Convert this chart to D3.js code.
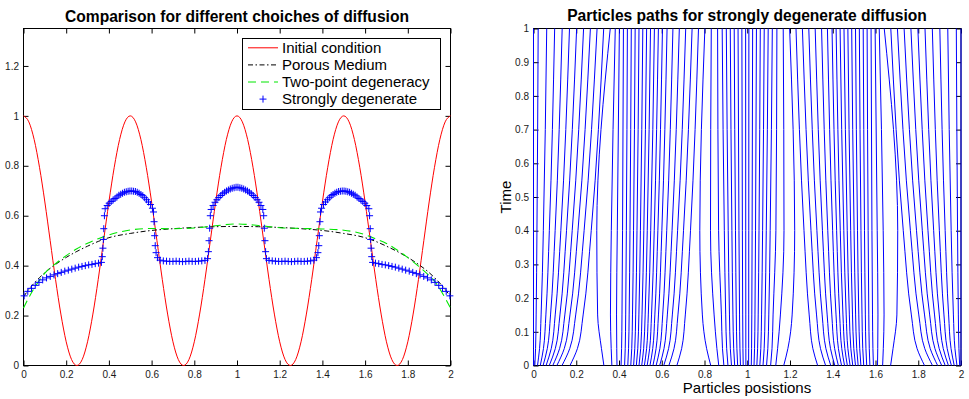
<!DOCTYPE html>
<html><head><meta charset="utf-8">
<script src="https://cdn.jsdelivr.net/npm/d3@7"></script>
<style>
body{margin:0;background:#fff;}
svg{display:block;font-family:"Liberation Sans",Arial,Helvetica,sans-serif;}
</style></head><body>
<svg id="chart" width="969" height="399"></svg>
<script>
// ---------- Left panel data ----------
const initialX = [0,0.025,0.05,0.075,0.1,0.125,0.15,0.175,0.2,0.225,0.25,0.275,0.3,0.325,0.35,0.375,0.4,0.425,0.45,0.475,
0.5,0.525,0.55,0.575,0.6,0.625,0.65,0.675,0.7,0.725,0.75,0.775,0.8,0.825,0.85,0.875,0.9,0.925,0.95,0.975,
1,1.025,1.05,1.075,1.1,1.125,1.15,1.175,1.2,1.225,1.25,1.275,1.3,1.325,1.35,1.375,1.4,1.425,1.45,1.475,
1.5,1.525,1.55,1.575,1.6,1.625,1.65,1.675,1.7,1.725,1.75,1.775,1.8,1.825,1.85,1.875,1.9,1.925,1.95,1.975,2];
const initialY = [1,.976,.905,.794,.655,.5,.345,.206,.095,.024,0,.024,.095,.206,.345,.5,.655,.794,.905,.976,
1,.976,.905,.794,.655,.5,.345,.206,.095,.024,0,.024,.095,.206,.345,.5,.655,.794,.905,.976,
1,.976,.905,.794,.655,.5,.345,.206,.095,.024,0,.024,.095,.206,.345,.5,.655,.794,.905,.976,
1,.976,.905,.794,.655,.5,.345,.206,.095,.024,0,.024,.095,.206,.345,.5,.655,.794,.905,.976,1];

const smoothX = [0,0.025,0.05,0.075,0.1,0.15,0.2,0.25,0.3,0.35,0.4,0.5,0.6,0.7,0.8,0.9,1,
1.1,1.2,1.3,1.4,1.5,1.6,1.65,1.7,1.75,1.8,1.85,1.9,1.925,1.95,1.975,2];
const porousY = [0.275,0.305,0.33,0.352,0.372,0.405,0.433,0.457,0.478,0.497,0.512,0.529,0.541,0.548,0.553,0.556,0.557,
0.556,0.553,0.548,0.541,0.529,0.512,0.497,0.478,0.457,0.433,0.405,0.372,0.352,0.33,0.305,0.275];
const twoPointY = [0.23,0.272,0.31,0.342,0.37,0.408,0.44,0.468,0.49,0.508,0.523,0.543,0.549,0.548,0.551,0.56,0.567,
0.561,0.552,0.549,0.547,0.542,0.524,0.507,0.489,0.463,0.432,0.398,0.36,0.338,0.307,0.27,0.23];

const strongX = [0.003,0.020,0.0375,0.055,0.0725,0.0898,0.1079,0.1254,0.1427,0.160,0.1768,0.1933,0.210,0.2262,0.242,0.2583,0.274,0.2895,0.3053,0.3207,0.336,0.3515,0.365,
0.369,0.372,0.374,0.376,0.379,
0.3825,0.3921,0.4014,0.4106,0.4197,0.4288,0.4377,0.4466,0.4553,0.4640,0.4727,0.4813,0.4900,0.4985,0.5071,0.5156,0.5242,0.5328,0.5414,0.5501,0.5588,0.5676,0.5765,0.5855,0.5946,0.6039,0.6090,
0.6115,0.6145,0.617,0.621,0.628,
0.640,0.655,0.670,0.685,0.700,0.715,0.730,0.745,0.760,0.775,0.790,0.805,0.820,0.835,0.850,
0.862,0.866,0.869,0.872,0.875,
0.879,0.888,0.8969,0.9059,0.9149,0.9238,0.9328,0.9418,0.9507,0.9597,0.9687,0.9776,0.9866,0.9956,
1.0044,1.0134,1.0224,1.0313,1.0403,1.0493,1.0582,1.0672,1.0762,1.0851,1.0941,1.1031,1.1120,1.1210,
1.125,1.128,1.131,1.134,1.138,
1.150,1.165,1.180,1.195,1.210,1.225,1.240,1.255,1.270,1.285,1.300,1.315,1.330,1.345,1.360,
1.372,1.379,1.383,1.3855,1.3885,
1.3910,1.3961,1.4054,1.4145,1.4235,1.4324,1.4412,1.4499,1.4586,1.4672,1.4758,1.4844,1.4929,1.5015,1.5100,1.5187,1.5273,1.5360,1.5447,1.5534,1.5623,1.5712,1.5803,1.5894,1.5986,1.6079,1.6175,
1.621,1.624,1.626,1.628,1.631,
1.635,1.6485,1.664,1.6793,1.6947,1.7105,1.726,1.7417,1.758,1.7738,1.790,1.8067,1.8232,1.840,1.8573,1.8746,1.8921,1.9102,1.9275,1.945,1.9625,1.980,1.997];
const strongY = [0.279,0.297,0.309,0.321,0.333,0.343,0.351,0.357,0.363,0.368,0.373,0.378,0.382,0.386,0.390,0.394,0.397,0.400,0.403,0.405,0.408,0.410,0.413,
0.436,0.470,0.505,0.548,0.600,
0.628,0.641,0.650,0.657,0.663,0.669,0.675,0.682,0.686,0.690,0.694,0.696,0.698,0.699,0.699,0.698,0.697,0.694,0.690,0.685,0.680,0.672,0.664,0.655,0.645,0.630,0.615,
0.576,0.520,0.480,0.452,0.432,
0.422,0.419,0.418,0.417,0.417,0.418,0.417,0.416,0.417,0.418,0.417,0.417,0.418,0.419,0.421,
0.428,0.456,0.500,0.550,0.600,
0.625,0.641,0.654,0.664,0.673,0.681,0.688,0.694,0.699,0.703,0.707,0.710,0.712,0.714,
0.714,0.712,0.710,0.707,0.703,0.699,0.694,0.688,0.681,0.673,0.664,0.654,0.641,0.625,
0.600,0.550,0.500,0.456,0.428,
0.421,0.419,0.418,0.417,0.417,0.418,0.417,0.416,0.417,0.418,0.417,0.417,0.418,0.419,0.422,
0.432,0.452,0.480,0.520,0.576,
0.615,0.630,0.645,0.655,0.664,0.672,0.680,0.685,0.690,0.694,0.697,0.698,0.699,0.699,0.698,0.696,0.694,0.690,0.686,0.682,0.675,0.669,0.663,0.657,0.650,0.641,0.628,
0.600,0.548,0.505,0.470,0.436,
0.413,0.410,0.408,0.405,0.403,0.400,0.397,0.394,0.390,0.386,0.382,0.378,0.373,0.368,0.363,0.357,0.351,0.343,0.333,0.321,0.309,0.297,0.279];

const legendLabels = ["Initial condition","Porous Medium","Two-point degeneracy","Strongly degenerate"];

// ---------- Right panel data (particle paths) ----------
const pathTimes = [0, 0.05, 0.15, 0.4, 1];
const pathsT0 = [0,
.0063,.0188,.0317,.0449,.0589,.0738,.0903,.1094,.1334,.1707,.3293,.3666,.3906,.4097,.4262,.4411,.4551,.4683,.4812,.4937,
.5063,.5188,.5317,.5449,.5589,.5738,.5903,.6094,.6334,.6707,.8293,.8666,.8906,.9097,.9262,.9411,.9551,.9683,.9812,.9937,
1.0063,1.0188,1.0317,1.0449,1.0589,1.0738,1.0903,1.1094,1.1334,1.1707,1.3293,1.3666,1.3906,1.4097,1.4262,1.4411,1.4551,1.4683,1.4812,1.4937,
1.5063,1.5188,1.5317,1.5449,1.5589,1.5738,1.5903,1.6094,1.6334,1.6707,1.8293,1.8666,1.8906,1.9097,1.9262,1.9411,1.9551,1.9683,1.9812,1.9937,
2];
const pathsT005 = [0,
.0097,.0283,.0465,.0645,.0830,.1020,.1220,.1439,.1695,.2054,.3180,.3635,.3895,.4121,.4291,.4447,.4596,.4738,.4878,.5015,
.5153,.5291,.5433,.5578,.5734,.5911,.6105,.6320,.6573,.6930,.8100,.8580,.8842,.9038,.9209,.9366,.9516,.9658,.9798,.9934,
1.0066,1.0202,1.0342,1.0484,1.0634,1.0791,1.0962,1.1158,1.1420,1.1900,1.3070,1.3427,1.3680,1.3895,1.4089,1.4266,1.4422,1.4567,1.4709,1.4847,
1.4985,1.5122,1.5262,1.5404,1.5553,1.5709,1.5879,1.6105,1.6365,1.6820,1.7946,1.8305,1.8561,1.8780,1.8980,1.9170,1.9355,1.9535,1.9717,1.9903,
2];
const pathsT015 = [0,
.0124,.0356,.0579,.0797,.1016,.1237,.1465,.1705,.1974,.2322,.3000,.3600,.3885,.4140,.4313,.4475,.4631,.4781,.4930,.5076,
.5223,.5371,.5522,.5677,.5846,.6044,.6261,.6495,.6758,.7102,.7900,.8450,.8792,.8992,.9168,.9331,.9488,.9639,.9787,.9932,
1.0068,1.0213,1.0361,1.0512,1.0669,1.0832,1.1008,1.1208,1.1550,1.2100,1.2898,1.3242,1.3505,1.3739,1.3956,1.4154,1.4323,1.4478,1.4629,1.4777,
1.4924,1.5070,1.5219,1.5369,1.5525,1.5687,1.5860,1.6115,1.6400,1.7000,1.7678,1.8026,1.8295,1.8535,1.8763,1.8984,1.9203,1.9421,1.9644,1.9876,
2];
const pathsT04 = [0,
.0161,.0460,.0741,.1012,.1279,.1544,.1810,.2081,.2367,.2701,.2960,.3640,.3920,.4166,.4344,.4514,.4680,.4842,.5002,.5161,
.5322,.5483,.5648,.5818,.6005,.6233,.6482,.6741,.7018,.7345,.7780,.8280,.8660,.8927,.9110,.9282,.9450,.9612,.9772,.9929,
1.0071,1.0228,1.0388,1.0550,1.0718,1.0890,1.1073,1.1340,1.1720,1.2220,1.2655,1.2982,1.3259,1.3518,1.3767,1.3995,1.4182,1.4352,1.4517,1.4678,
1.4839,1.4998,1.5158,1.5320,1.5486,1.5656,1.5834,1.6080,1.6360,1.7040,1.7299,1.7633,1.7919,1.8190,1.8456,1.8721,1.8988,1.9259,1.9540,1.9839,
2];
const pathsT1 = [0,
.0219,.0619,.0990,.1342,.1684,.2018,.2343,.2661,.2974,.3284,.3591,.3826,.4018,.4207,.4392,.4575,.4756,.4935,.5114,.5293,
.5474,.5657,.5843,.6034,.6249,.6523,.6822,.7121,.7420,.7719,.8018,.8317,.8613,.8827,.9020,.9206,.9390,.9570,.9748,.9924,
1.0076,1.0252,1.0430,1.0610,1.0794,1.0980,1.1173,1.1387,1.1683,1.1982,1.2281,1.2580,1.2879,1.3178,1.3477,1.3751,1.3966,1.4157,1.4343,1.4526,
1.4707,1.4886,1.5065,1.5244,1.5425,1.5608,1.5793,1.5982,1.6174,1.6409,1.6716,1.7026,1.7339,1.7657,1.7982,1.8316,1.8658,1.9010,1.9381,1.9781,
2];

// ---------- Ticks ----------
const xTicks = [0,0.2,0.4,0.6,0.8,1,1.2,1.4,1.6,1.8,2];
const xTickLabels = ["0","0.2","0.4","0.6","0.8","1","1.2","1.4","1.6","1.8","2"];
const leftYTicks = [0,0.2,0.4,0.6,0.8,1,1.2];
const leftYTickLabels = ["0","0.2","0.4","0.6","0.8","1","1.2"];
const rightYTicks = [0,0.1,0.2,0.3,0.4,0.5,0.6,0.7,0.8,0.9,1];
const rightYTickLabels = ["0","0.1","0.2","0.3","0.4","0.5","0.6","0.7","0.8","0.9","1"];

// ---------- Drawing ----------
const svg = d3.select("#chart");
const TICK = 5;

function frame(x, y, xT, xL, yT, yL) {
  const [xa, xb] = x.range();
  const [ya, yb] = y.range();
  const g = svg.append("g");
  const style = sel => {
    sel.select(".domain").remove();
    sel.attr("font-family", null).attr("font-size", 10);
    sel.selectAll("line").attr("stroke", "#000");
    sel.selectAll("text").attr("fill", "#1a1a1a");
  };
  g.append("g").attr("transform", `translate(0,${ya})`)
    .call(d3.axisBottom(x).tickValues(xT).tickSize(-TICK).tickPadding(5).tickFormat((d,i)=>xL[i])).call(style);
  g.append("g").attr("transform", `translate(0,${yb})`)
    .call(d3.axisTop(x).tickValues(xT).tickSize(-TICK).tickFormat(()=>"")).call(style);
  g.append("g").attr("transform", `translate(${xa},0)`)
    .call(d3.axisLeft(y).tickValues(yT).tickSize(-TICK).tickPadding(4.5).tickFormat((d,i)=>yL[i])).call(style);
  g.append("g").attr("transform", `translate(${xb},0)`)
    .call(d3.axisRight(y).tickValues(yT).tickSize(-TICK).tickFormat(()=>"")).call(style);
  g.append("rect").attr("x", xa).attr("y", yb).attr("width", xb - xa).attr("height", ya - yb)
    .attr("fill", "none").attr("stroke", "#000").attr("stroke-width", 1);
  return g;
}

// Left panel
const xL = d3.scaleLinear().domain([0, 2]).range([23.5, 450.5]);
const yL = d3.scaleLinear().domain([0, 1.35]).range([365.5, 28.5]);
frame(xL, yL, xTicks, xTickLabels, leftYTicks, leftYTickLabels);

const lineL = d3.line().x(d => xL(d[0])).y(d => yL(d[1])).curve(d3.curveMonotoneX);
const gL = svg.append("g");
gL.append("path").datum(initialX.map((v,i)=>[v, initialY[i]])).attr("d", lineL)
  .attr("fill","none").attr("stroke","#ff0000").attr("stroke-width",1);
gL.append("path").datum(smoothX.map((v,i)=>[v, porousY[i]])).attr("d", lineL)
  .attr("fill","none").attr("stroke","#000").attr("stroke-width",1).attr("stroke-dasharray","5,2.5,1.5,2.5");
gL.append("path").datum(smoothX.map((v,i)=>[v, twoPointY[i]])).attr("d", lineL)
  .attr("fill","none").attr("stroke","#00e600").attr("stroke-width",1.1).attr("stroke-dasharray","8,5");
const plus = "M-3.5,0H3.5M0,-3.5V3.5";
gL.selectAll("path.mk").data(strongX.map((v,i)=>[v, strongY[i]])).join("path").attr("class","mk")
  .attr("transform", d => `translate(${xL(d[0])},${yL(d[1])})`).attr("d", plus)
  .attr("fill","none").attr("stroke","#0000ff").attr("stroke-width",1);

// Legend
const lg = svg.append("g");
lg.append("rect").attr("x",242.5).attr("y",38.5).attr("width",198).attr("height",71)
  .attr("fill","#fff").attr("stroke","#000");
const rowY = [47.8, 64.9, 82.0, 99.1];
const legStyles = [
  {stroke:"#ff0000", dash:null},
  {stroke:"#000", dash:"5,2.5,1.5,2.5"},
  {stroke:"#00e600", dash:"8,5"},
  null
];
legendLabels.forEach((lab, i) => {
  const s = legStyles[i];
  if (s) {
    lg.append("line").attr("x1",248).attr("x2",278).attr("y1",rowY[i]).attr("y2",rowY[i])
      .attr("stroke",s.stroke).attr("stroke-width",1).attr("stroke-dasharray",s.dash);
  } else {
    lg.append("path").attr("transform",`translate(263,${rowY[i]})`).attr("d",plus)
      .attr("fill","none").attr("stroke","#0000ff");
  }
  lg.append("text").attr("x",282).attr("y",rowY[i]).attr("dy","0.35em")
    .attr("font-size",15).attr("fill","#000").text(lab);
});

svg.append("text").attr("x",237).attr("y",21.5).attr("text-anchor","middle")
  .attr("font-size",15.6).attr("font-weight","bold").text("Comparison for different choiches of diffusion");

// Right panel
const xR = d3.scaleLinear().domain([0, 2]).range([533.5, 961]);
const yR = d3.scaleLinear().domain([0, 1]).range([365.5, 28.5]);
frame(xR, yR, xTicks, xTickLabels, rightYTicks, rightYTickLabels);

const pathSets = [pathsT0, pathsT005, pathsT015, pathsT04, pathsT1];
const particles = pathsT0.map((_, i) => pathTimes.map((t, j) => [pathSets[j][i], t]).reverse());
const lineR = d3.line().x(d => xR(d[0])).y(d => yR(d[1])).curve(d3.curveMonotoneY);
svg.append("g").selectAll("path").data(particles).join("path").attr("d", lineR)
  .attr("fill","none").attr("stroke","#0000ff").attr("stroke-width",1);

svg.append("text").attr("x",747).attr("y",21).attr("text-anchor","middle")
  .attr("font-size",15.6).attr("font-weight","bold").text("Particles paths for strongly degenerate diffusion");
svg.append("text").attr("x",747).attr("y",392.5).attr("text-anchor","middle")
  .attr("font-size",15).text("Particles posistions");
svg.append("text").attr("transform","translate(510.5,197) rotate(-90)").attr("text-anchor","middle")
  .attr("font-size",15).text("Time");
</script>
</body></html>
